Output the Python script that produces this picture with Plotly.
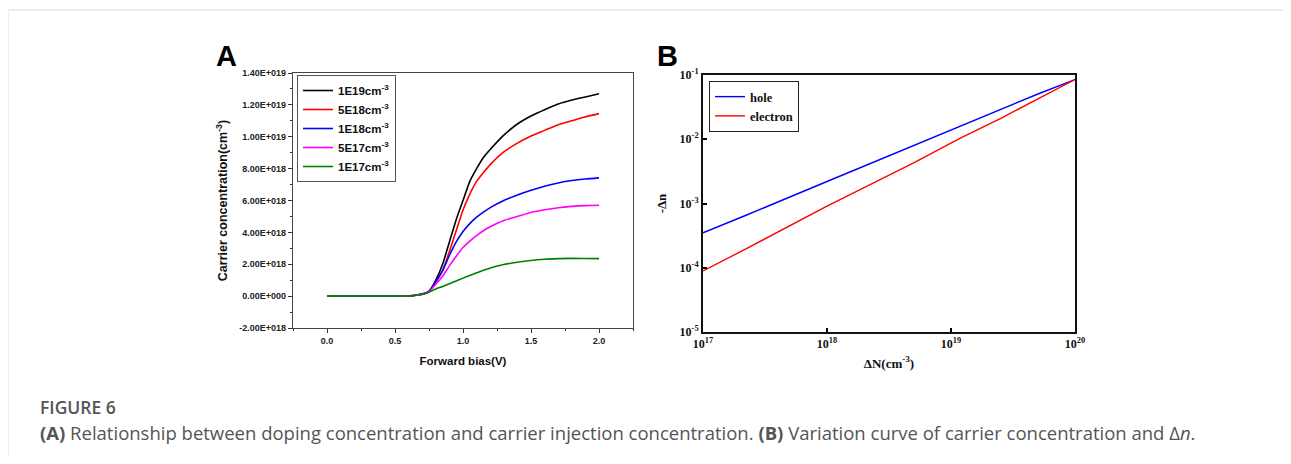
import plotly.graph_objects as go

# ---------------- Panel A data (carrier concentration, units of 1e18 cm^-3) ----------------
bias_v = [0.0, 0.1, 0.2, 0.3, 0.4, 0.5, 0.6, 0.65, 0.7, 0.75, 0.8, 0.85, 0.9, 0.95, 1.0,
          1.05, 1.1, 1.15, 1.2, 1.3, 1.4, 1.5, 1.6, 1.7, 1.8, 1.9, 2.0]
conc_1e19 = [0, 0, 0, 0, 0, 0, 0.02, 0.06, 0.13, 0.3, 1.0, 2.0, 3.4, 4.8, 6.0,
             7.2, 8.0, 8.7, 9.2, 10.1, 10.8, 11.3, 11.7, 12.05, 12.3, 12.5, 12.7]
conc_5e18 = [0, 0, 0, 0, 0, 0, 0.02, 0.06, 0.13, 0.3, 0.9, 1.6, 2.8, 4.1, 5.4,
             6.4, 7.2, 7.75, 8.25, 9.05, 9.6, 10.05, 10.4, 10.75, 11.0, 11.25, 11.45]
conc_1e18 = [0, 0, 0, 0, 0, 0, 0.02, 0.06, 0.13, 0.3, 0.9, 1.6, 2.55, 3.4, 4.05,
             4.55, 4.95, 5.27, 5.55, 6.0, 6.35, 6.65, 6.9, 7.1, 7.25, 7.35, 7.42]
conc_5e17 = [0, 0, 0, 0, 0, 0, 0.02, 0.06, 0.12, 0.28, 0.75, 1.25, 1.9, 2.5, 3.05,
             3.45, 3.8, 4.1, 4.35, 4.75, 5.0, 5.25, 5.42, 5.55, 5.63, 5.68, 5.7]
conc_1e17 = [0, 0, 0, 0, 0, 0, 0.02, 0.05, 0.1, 0.25, 0.45, 0.6, 0.78, 0.95, 1.13,
             1.3, 1.47, 1.62, 1.77, 1.98, 2.13, 2.24, 2.31, 2.35, 2.37, 2.36, 2.35]
series_a_names = ["1E19cm<sup>-3</sup>", "5E18cm<sup>-3</sup>", "1E18cm<sup>-3</sup>",
                  "5E17cm<sup>-3</sup>", "1E17cm<sup>-3</sup>"]
series_a_colors = ["#000000", "#ff0000", "#0000ff", "#ff00ff", "#008000"]
a_y_tickvals = [-2e18, 0, 2e18, 4e18, 6e18, 8e18, 1e19, 1.2e19, 1.4e19]
a_y_ticktext = ["-2.00E+018", "0.00E+000", "2.00E+018", "4.00E+018", "6.00E+018",
                "8.00E+018", "1.00E+019", "1.20E+019", "1.40E+019"]
a_x_tickvals = [0.0, 0.5, 1.0, 1.5, 2.0]
a_x_ticktext = ["0.0", "0.5", "1.0", "1.5", "2.0"]

# ---------------- Panel B data ----------------
delta_N = [1.0e17, 2.2e17, 1.0e18, 2.7e18, 5.0e18, 1.2e19, 2.5e19, 5.2e19, 1.0e20]
dn_hole = [3.5e-4, 6.5e-4, 2.2e-3, 4.9e-3, 7.9e-3, 1.6e-2, 2.9e-2, 5.2e-2, 8.5e-2]
dn_electron = [8.9e-5, 1.95e-4, 9.1e-4, 2.4e-3, 4.3e-3, 1.05e-2, 2.1e-2, 4.4e-2, 8.5e-2]
b_x_tickvals = [1e17, 1e18, 1e19, 1e20]
b_x_ticktext = ["10<sup>17</sup>", "10<sup>18</sup>", "10<sup>19</sup>", "10<sup>20</sup>"]
b_y_tickvals = [1e-5, 1e-4, 1e-3, 1e-2, 1e-1]
b_y_ticktext = ["10<sup>-5</sup>", "10<sup>-4</sup>", "10<sup>-3</sup>", "10<sup>-2</sup>", "10<sup>-1</sup>"]

# page is 1291x464 with an 8px body margin around the figure
OFF = 8
W, H = 1291 - 2 * OFF, 464 - 2 * OFF
fig = go.Figure()

series_a = [conc_1e19, conc_5e18, conc_1e18, conc_5e17, conc_1e17]
for name, col, vals in zip(series_a_names, series_a_colors, series_a):
    fig.add_trace(go.Scatter(
        x=bias_v, y=[v * 1e18 for v in vals], mode="lines", name=name,
        line=dict(color=col, width=1.6, shape="spline", smoothing=0.6),
        xaxis="x", yaxis="y", legend="legend"))

fig.add_trace(go.Scatter(x=delta_N, y=dn_hole, mode="lines", name="hole",
                         line=dict(color="#0000ff", width=1.4),
                         xaxis="x2", yaxis="y2", legend="legend2"))
fig.add_trace(go.Scatter(x=delta_N, y=dn_electron, mode="lines", name="electron",
                         line=dict(color="#ff0000", width=1.4),
                         xaxis="x2", yaxis="y2", legend="legend2"))

def px(x):
    return (x - OFF) / W

def py(y):
    return 1 - (y - OFF) / H

arial_b = "Liberation Sans"
times = "Liberation Serif"

fig.update_layout(
    width=W, height=H, margin=dict(l=0, r=0, t=0, b=0, pad=0, autoexpand=False),
    paper_bgcolor="white", plot_bgcolor="white", showlegend=True,
    xaxis=dict(domain=[px(293), px(633)], range=[-0.25, 2.25],
               tickvals=a_x_tickvals, ticktext=a_x_ticktext,
               ticks="outside", ticklen=4, tickwidth=1, tickcolor="#333",
               minor=dict(dtick=0.25, ticks="outside", ticklen=2, tickcolor="#333"),
               showline=True, linecolor="#444", linewidth=1.2, mirror=True,
               showgrid=False, zeroline=False, automargin=False,
               tickfont=dict(family=arial_b, size=9, color="#222", weight="bold"),
               title=dict(text="<b>Forward bias(V)</b>", standoff=12,
                          font=dict(family=arial_b, size=11.5, color="#111")),
               anchor="y"),
    yaxis=dict(domain=[py(328), py(73)], range=[-2e18, 1.4e19],
               tickvals=a_y_tickvals, ticktext=a_y_ticktext,
               ticks="outside", ticklen=4, tickwidth=1, tickcolor="#333",
               minor=dict(dtick=1e18, ticks="outside", ticklen=2, tickcolor="#333"),
               showline=True, linecolor="#444", linewidth=1.2, mirror=True,
               showgrid=False, zeroline=False, automargin=False,
               tickfont=dict(family=arial_b, size=9, color="#222", weight="bold"),
               title=dict(text="<b>Carrier concentration(cm<sup>-3</sup>)</b>", standoff=8,
                          font=dict(family=arial_b, size=12.5, color="#111")),
               anchor="x"),
    xaxis2=dict(domain=[px(703), px(1075)], type="log", range=[17, 20],
                tickvals=b_x_tickvals, ticktext=b_x_ticktext,
                ticks="inside", ticklen=4, tickwidth=1.5, tickcolor="#000",
                showline=True, linecolor="#111", linewidth=2, mirror=True,
                showgrid=False, zeroline=False, automargin=False,
                tickfont=dict(family=times, size=12, color="#111", weight="bold"),
                title=dict(text="<b>ΔN(cm<sup>-3</sup>)</b>", standoff=8,
                           font=dict(family=times, size=13, color="#111")),
                anchor="y2"),
    yaxis2=dict(domain=[py(332), py(75)], type="log", range=[-5, -1],
                tickvals=b_y_tickvals, ticktext=b_y_ticktext,
                ticks="inside", ticklen=4, tickwidth=1.5, tickcolor="#000",
                showline=True, linecolor="#111", linewidth=2, mirror=True,
                showgrid=False, zeroline=False, automargin=False,
                tickfont=dict(family=times, size=12, color="#111", weight="bold"),
                title=dict(text="<b>-Δn</b>", standoff=10,
                           font=dict(family=times, size=13, color="#111")),
                anchor="x2"),
    legend=dict(x=px(297), y=py(75), xanchor="left", yanchor="top",
                bgcolor="white", bordercolor="#555", borderwidth=1,
                font=dict(family=arial_b, size=11.5, color="#111", weight="bold"),
                itemwidth=30, tracegroupgap=0),
    legend2=dict(x=px(709), y=py(81), xanchor="left", yanchor="top",
                 bgcolor="white", bordercolor="#222", borderwidth=1,
                 font=dict(family=times, size=12.5, color="#111", weight="bold"),
                 itemwidth=30, tracegroupgap=0),
)

annotations = [
    dict(text="<b>A</b>", x=px(226), y=py(56), xref="paper", yref="paper",
         xanchor="center", yanchor="middle",
         showarrow=False, font=dict(family=arial_b, size=29, color="#000")),
    dict(text="<b>B</b>", x=px(667), y=py(56), xref="paper", yref="paper",
         xanchor="center", yanchor="middle",
         showarrow=False, font=dict(family=arial_b, size=29, color="#000")),
    dict(text="FIGURE 6", x=px(38), y=py(407), xref="paper", yref="paper",
         xanchor="left", yanchor="middle", showarrow=False,
         font=dict(family="Open Sans", size=17.5, color="#555", weight=600)),
    dict(text="<b>(A)</b> Relationship between doping concentration and carrier injection concentration. "
              "<b>(B)</b> Variation curve of carrier concentration and Δ<i>n</i>.",
         x=px(38), y=py(432), xref="paper", yref="paper", xanchor="left", yanchor="middle",
         showarrow=False, font=dict(family="Open Sans", size=18.5, color="#555")),
]
fig.update_layout(annotations=annotations)

fig.add_shape(type="line", xref="paper", yref="paper", x0=0, x1=1, y0=py(10), y1=py(10),
              line=dict(color="#dddddd", width=1))
fig.add_shape(type="line", xref="paper", yref="paper", x0=0, x1=0, y0=-0.1, y1=py(10),
              line=dict(color="#dddddd", width=1))

fig.write_html("out.html")
